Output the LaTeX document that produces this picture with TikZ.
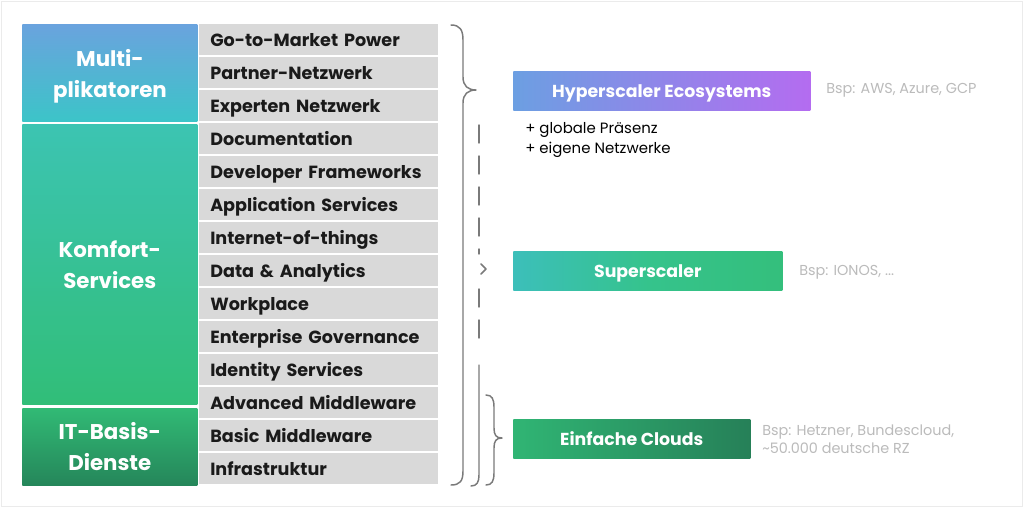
\documentclass[tikz,border=0pt]{standalone}
\usepackage{fontspec}
\setmainfont{Poppins}
\definecolor{rowgray}{HTML}{D9D9D9}
\definecolor{rowtext}{HTML}{1A1A1A}
\definecolor{hintgray}{HTML}{BBBBBB}
\definecolor{bracegray}{HTML}{7A7A7A}
\definecolor{multitop}{HTML}{6AA3DE}
\definecolor{multibot}{HTML}{3CC4C8}
\definecolor{komftop}{HTML}{3CC4B2}
\definecolor{komfbot}{HTML}{31BE78}
\definecolor{ittop}{HTML}{31BA75}
\definecolor{itbot}{HTML}{25865A}
\definecolor{hypleft}{HTML}{6C9FE2}
\definecolor{hypright}{HTML}{B46CF0}
\definecolor{supleft}{HTML}{3CBFBA}
\definecolor{supmid}{HTML}{35C38C}
\definecolor{supright}{HTML}{34BF7C}
\definecolor{einleft}{HTML}{30B574}
\definecolor{einright}{HTML}{268058}
\tikzset{
  rowbox/.style={anchor=north west, fill=rowgray, minimum width=239*0.75pt, minimum height=31*0.75pt,
    text width=217*0.75pt, inner xsep=11*0.75pt, inner ysep=0pt, align=left, text=rowtext,
    text height=10.4pt, text depth=0pt,
    font=\bfseries\fontsize{13.2}{15}\selectfont},
  blockbox/.style={anchor=north west, minimum width=175*0.75pt, inner sep=0pt, align=center, text=white,
    font=\bfseries\fontsize{16}{23.2}\selectfont},
  cloudbox/.style={anchor=north west, minimum height=39*0.75pt, inner sep=0pt, text=white,
    text height=10.6pt, text depth=0pt,
    font=\bfseries\fontsize{13}{15}\selectfont},
  hint/.style={anchor=west, inner sep=0pt, text=hintgray, align=left, font=\fontsize{10.8}{13.5}\selectfont},
  plus/.style={anchor=west, inner sep=0pt, text=black, align=left, font=\fontsize{11.2}{15}\selectfont},
  bracestyle/.style={draw=bracegray, line width=1.1pt, line cap=round, line join=round},
}
\begin{document}
\begin{tikzpicture}[x=0.75pt,y=-0.75pt]
\useasboundingbox (0,0) rectangle (1024,508);
\draw[draw=black!8, fill=white, line width=0.75pt] (1,1) rectangle (1022,506);
% rows
\foreach \t [count=\i from 0] in {Go-to-Market Power, Partner-Netzwerk, Experten Netzwerk, Documentation,
  Developer Frameworks, Application Services, Internet-of-things, Data \& Analytics, Workplace,
  Enterprise Governance, Identity Services, Advanced Middleware, Basic Middleware, Infrastruktur}
  { \node[rowbox] (r\i) at (199,{24+33*\i}) {\t}; }
% blocks
\node[blockbox, top color=multitop, bottom color=multibot, minimum height=97*0.75pt] (multi) at (22,24) {};
\node[text=white, align=center, inner sep=0pt, font=\bfseries\fontsize{16}{23.2}\selectfont] (multitext) at (110,76) {Multi-\\plikatoren};
\node[blockbox, top color=komftop, bottom color=komfbot, minimum height=280*0.75pt] (komfort) at (22,124) {Komfort-\\Services};
\node[blockbox, top color=ittop, bottom color=itbot, minimum height=77*0.75pt] (itbasis) at (22,408) {IT-Basis-\\Dienste};
% cloud boxes
\node[cloudbox, left color=hypleft, right color=hypright, minimum width=297*0.75pt] (hyper) at (513,71) {Hyperscaler Ecosystems};
\node[cloudbox, left color=supleft, right color=supright, middle color=supmid, minimum width=269*0.75pt] (super) at (513,251) {Superscaler};
\node[cloudbox, left color=einleft, right color=einright, minimum width=237*0.75pt] (einfach) at (513,419) {Einfache Clouds};
% hints
\node[hint] (hhyper) at (826,90) {Bsp: AWS, Azure, GCP};
\node[hint] (hsuper) at (799,272) {Bsp: IONOS, ...};
\node[hint] (heinfach) at (762,439) {Bsp: Hetzner, Bundescloud,\\\textasciitilde50.000 deutsche RZ};
\node[plus] (pros) at (525,140) {+ globale Präsenz\\+ eigene Netzwerke};
% big brace
\draw[bracestyle] (451,25) .. controls (460,25) and (463,30) .. (463,40) -- (463,77)
  .. controls (463,86) and (468,90) .. (476,90) .. controls (468,90) and (463,94) .. (463,103)
  -- (463,471) .. controls (463,481) and (460,485) .. (451,485);
% middle dashed brace
\draw[bracestyle, dash pattern=on 18*0.75pt off 13*0.75pt] (479,125) -- (479,254);
\draw[bracestyle, dash pattern=on 18*0.75pt off 13*0.75pt] (479,289) -- (479,340);
\draw[bracestyle] (481,264) -- (486,269) -- (481,274);
\draw[bracestyle] (479,365) -- (479,475) .. controls (479,482) and (477,486) .. (471,486);
% small brace
\draw[bracestyle] (486,395) .. controls (492,395) and (494,399) .. (494,407) -- (494,428)
  .. controls (494,435) and (496,438) .. (502,438) .. controls (496,438) and (494,441) .. (494,448)
  -- (494,473) .. controls (494,481) and (492,485) .. (486,485);
\end{tikzpicture}
\end{document}
